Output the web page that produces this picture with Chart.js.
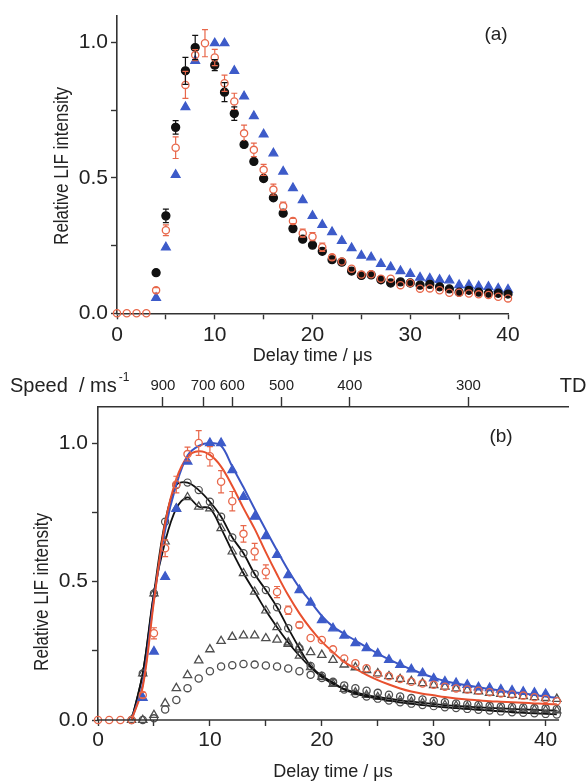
<!DOCTYPE html>
<html>
<head>
<meta charset="utf-8">
<script src="https://cdn.jsdelivr.net/npm/chart.js@4.4.1/dist/chart.umd.min.js"></script>
<style>
    html, body { margin: 0; padding: 0; background: #fff; overflow: hidden; }
    #boxA { position: absolute; left: 0; top: 0; width: 586px; height: 370px; }
    #boxB { position: absolute; left: 0; top: 370px; width: 586px; height: 411px; }
</style>
</head>
<body>
<div id="boxA"><canvas id="chartA"></canvas></div>
<div id="boxB"><canvas id="chartB"></canvas></div>
<script>

// delay time (us), one point per microsecond
const delay = [0, 1, 2, 3, 4, 5, 6, 7, 8, 9, 10, 11, 12, 13, 14, 15, 16, 17, 18, 19, 20,
    21, 22, 23, 24, 25, 26, 27, 28, 29, 30, 31, 32, 33, 34, 35, 36, 37, 38, 39, 40, 41];

// panel (a)
const blackA = [null, null, null, null, 0.15, 0.36, 0.687, 0.896, 0.982, null, 0.917, 0.817, 0.738, 0.624,
    0.561, 0.498, 0.427, 0.37, 0.313, 0.274, 0.252, 0.229, 0.198, 0.189, 0.156, 0.14, 0.142, 0.124, 0.112,
    0.116, 0.112, 0.104, 0.107, 0.098, 0.09, 0.078, 0.085, 0.078, 0.074, 0.074, 0.071, 0.066];
const blackErrA = [0, 0, 0, 0, 0.01, 0.025, 0.025, 0.05, 0.045, 0, 0.02, 0.035, 0.025, 0.01, 0, 0, 0, 0, 0, 0, 0,
    0, 0, 0, 0, 0, 0, 0, 0, 0, 0, 0, 0, 0, 0, 0, 0, 0, 0, 0, 0, 0];
const redA = [0, 0, 0, 0, 0.085, 0.307, 0.612, 0.844, 0.954, 0.998, 0.945, 0.85, 0.783, 0.665, 0.604, 0.53,
    0.457, 0.396, 0.341, 0.296, 0.283, 0.244, 0.207, 0.191, 0.165, 0.143, 0.144, 0.128, 0.128, 0.104, 0.112,
    0.091, 0.092, 0.085, 0.076, 0.076, 0.073, 0.07, 0.068, 0.061, 0.055, 0.055];
const redErrA = [0, 0, 0, 0, 0.01, 0.02, 0.04, 0.05, 0.02, 0.05, 0.03, 0.03, 0.03, 0.03, 0.025, 0.02, 0.02,
    0.015, 0.01, 0.015, 0.015, 0.015, 0.01, 0, 0, 0, 0, 0, 0, 0, 0, 0, 0, 0, 0, 0, 0, 0, 0, 0, 0, 0];
const blueA = [null, null, null, null, 0.057, 0.244, 0.512, 0.762, 0.933, null, 0.998, 0.998, 0.896, 0.802,
    0.729, 0.661, 0.591, 0.524, 0.463, 0.418, 0.36, 0.327, 0.3, 0.268, 0.241, 0.213, 0.207, 0.183, 0.171,
    0.156, 0.146, 0.132, 0.128, 0.124, 0.122, 0.104, 0.104, 0.1, 0.098, 0.091, 0.088, null];

// panel (b)
const blueB = [null, null, null, null, 0.08, 0.247, 0.517, 0.762, 0.933, null, 1.0, 1.0, 0.902, 0.806, 0.734,
    0.664, 0.596, 0.523, 0.469, 0.424, 0.361, 0.331, 0.305, 0.278, 0.26, 0.24, 0.217, 0.199, 0.183, 0.169,
    0.15, 0.139, 0.133, 0.127, 0.118, 0.115, 0.11, 0.106, 0.102, 0.098, 0.094, null];
const blueFitB = [null, null, null, 0, 0.13, 0.44, 0.686, 0.85, 0.955, 0.99, 1.0, 0.99, 0.915, 0.84, 0.762,
    0.686, 0.612, 0.541, 0.478, 0.427, 0.376, 0.337, 0.311, 0.287, 0.263, 0.24, 0.219, 0.2, 0.183, 0.167,
    0.153, 0.141, 0.132, 0.125, 0.118, 0.112, 0.106, 0.1, 0.096, 0.09, 0.085, 0.08];
const redB = [0, 0, 0, 0, 0.09, 0.313, 0.62, 0.85, 0.96, 1.0, 0.952, 0.86, 0.79, 0.672, 0.608, 0.535, 0.462,
    0.396, 0.343, 0.296, 0.289, 0.255, 0.222, 0.205, 0.187, 0.166, 0.158, 0.148, 0.138, 0.132, 0.127, 0.12,
    0.114, 0.11, 0.106, 0.1, 0.096, 0.092, 0.088, 0.082, 0.076, 0.068];
const redErrB = [0, 0, 0, 0, 0.01, 0.02, 0.03, 0.03, 0.025, 0.045, 0.035, 0.04, 0.035, 0.03, 0.03, 0.025, 0.02,
    0.015, 0.01, 0, 0, 0, 0, 0, 0, 0, 0, 0, 0, 0, 0, 0, 0, 0, 0, 0, 0, 0, 0, 0, 0, 0];
const redFitB = [null, null, null, 0, 0.12, 0.43, 0.71, 0.87, 0.95, 0.97, 0.957, 0.915, 0.845, 0.765, 0.69,
    0.605, 0.525, 0.45, 0.385, 0.33, 0.283, 0.245, 0.21, 0.185, 0.163, 0.144, 0.128, 0.114, 0.103, 0.095,
    0.089, 0.083, 0.078, 0.074, 0.071, 0.068, 0.066, 0.064, 0.062, 0.06, 0.058, 0.057];
const circLineB = [null, null, null, 0, 0.168, 0.457, 0.716, 0.848, 0.857, 0.83, 0.788, 0.734, 0.659, 0.602,
    0.527, 0.469, 0.407, 0.331, 0.259, 0.195, 0.16, 0.135, 0.11, 0.095, 0.085, 0.077, 0.07, 0.064, 0.059,
    0.054, 0.05, 0.046, 0.043, 0.04, 0.037, 0.034, 0.031, 0.028, 0.026, 0.024, 0.022, 0.02];
const triLineB = [null, null, null, 0, 0.168, 0.457, 0.644, 0.764, 0.804, 0.77, 0.764, 0.692, 0.608, 0.53,
    0.463, 0.395, 0.335, 0.28, 0.232, 0.19, 0.155, 0.13, 0.112, 0.1, 0.09, 0.083, 0.077, 0.071, 0.066,
    0.062, 0.058, 0.054, 0.051, 0.048, 0.046, 0.044, 0.042, 0.04, 0.038, 0.037, 0.035, 0.034];
const triLowB = [null, null, null, null, 0, 0.018, 0.06, 0.115, 0.162, 0.215, 0.255, 0.285, 0.3, 0.305, 0.305,
    0.295, 0.29, 0.275, 0.262, 0.245, 0.235, 0.217, 0.2, 0.19, 0.18, 0.168, 0.158, 0.148, 0.14, 0.133,
    0.126, 0.12, 0.114, 0.108, 0.103, 0.098, 0.094, 0.09, 0.086, 0.082, 0.079, 0.076];
const circLowB = [null, null, null, null, 0, 0.006, 0.038, 0.072, 0.115, 0.15, 0.176, 0.193, 0.198, 0.202, 0.2,
    0.197, 0.193, 0.186, 0.176, 0.163, 0.152, 0.138, 0.125, 0.115, 0.106, 0.098, 0.091, 0.085, 0.079,
    0.074, 0.069, 0.064, 0.06, 0.057, 0.054, 0.051, 0.049, 0.047, 0.045, 0.043, 0.042, 0.04];

// top axis of panel (b): speed ticks placed at delay times
const speedTimes = [5.8, 9.4, 12.0, 16.4, 22.5, 33.1];
const speedLabels = ["900", "700", "600", "500", "400", "300"];

const FONT = "'Liberation Sans', Arial, Helvetica, sans-serif";
const TXT = "#222";
const AXIS = "#333";
const RED = "#e8674a";
const RED_LINE = "#e8502e";
const BLUE = "#3d5bc9";
const BLUE_LINE = "#3a55c4";
const GRAY = "#4d4d4d";

function pts(values, errors) {
    let out = [];
    delay.forEach((t, i) => {
        if (values[i] === null) {
            return;
        }
        out.push({ x: t, y: values[i], err: errors ? errors[i] : 0 });
    });
    return out;
}

function isHalf(v) {
    return Math.abs(v * 2 - Math.round(v * 2)) < 1e-6;
}

const errorBars = {
    id: "errorBars",
    afterDatasetsDraw(chart) {
        const ctx = chart.ctx;
        const xs = chart.scales.x;
        const ys = chart.scales.y;
        chart.data.datasets.forEach(ds => {
            if (!ds.errColor) {
                return;
            }
            ctx.save();
            ctx.strokeStyle = ds.errColor;
            ctx.lineWidth = 1.2;
            ds.data.forEach(p => {
                if (!p.err) {
                    return;
                }
                const x = xs.getPixelForValue(p.x);
                const y = ys.getPixelForValue(p.y);
                const y1 = ys.getPixelForValue(p.y + p.err);
                const y2 = ys.getPixelForValue(p.y - p.err);
                const r = 4;
                ctx.beginPath();
                if (y - y1 > r) {
                    ctx.moveTo(x, y1);
                    ctx.lineTo(x, y - r);
                }
                if (y2 - y > r) {
                    ctx.moveTo(x, y + r);
                    ctx.lineTo(x, y2);
                }
                ctx.moveTo(x - 3, y1);
                ctx.lineTo(x + 3, y1);
                ctx.moveTo(x - 3, y2);
                ctx.lineTo(x + 3, y2);
                ctx.stroke();
            });
            ctx.restore();
        });
    }
};

const panelText = {
    id: "panelText",
    afterDraw(chart, args, opts) {
        const ctx = chart.ctx;
        (opts.items || []).forEach(item => {
            ctx.save();
            ctx.font = item.font;
            ctx.fillStyle = TXT;
            ctx.textAlign = item.align || "center";
            ctx.textBaseline = "middle";
            ctx.translate(item.x, item.y);
            if (item.rotate) {
                ctx.rotate(item.rotate);
            }
            if (item.squeeze) {
                ctx.scale(item.squeeze, 1);
            }
            ctx.fillText(item.text, 0, 0);
            if (item.sup) {
                const w = ctx.measureText(item.text).width;
                ctx.font = item.supFont;
                ctx.textAlign = "left";
                ctx.fillText(item.sup, w + 2, -8);
            }
            ctx.restore();
        });
        if (opts.bottomEnd !== undefined) {
            const xs = chart.scales.x;
            const y = chart.chartArea.bottom;
            ctx.save();
            ctx.strokeStyle = AXIS;
            ctx.lineWidth = 1.6;
            ctx.beginPath();
            ctx.moveTo(xs.getPixelForValue(0) - 0.8, y);
            ctx.lineTo(xs.getPixelForValue(opts.bottomEnd), y);
            ctx.stroke();
            ctx.restore();
        }
    }
};

function xAxis(max, height, pad, titlePad, showBorder) {
    return {
        type: "linear",
        position: "bottom",
        min: 0,
        max: max,
        afterFit: s => { s.height = height; },
        border: { display: showBorder, color: AXIS, width: 1.6 },
        grid: { drawOnChartArea: false, tickLength: 6, tickColor: AXIS, tickWidth: 1.4 },
        ticks: {
            stepSize: 5,
            includeBounds: false,
            autoSkip: false,
            maxRotation: 0,
            padding: pad,
            color: TXT,
            font: { family: FONT, size: 21 },
            callback: v => (v % 10 === 0 ? String(v) : "")
        },
        title: {
            display: true,
            text: "Delay time / \u03bcs",
            color: TXT,
            font: { family: FONT, size: 18, lineHeight: 1 },
            padding: { top: 0, bottom: titlePad }
        }
    };
}

function yAxis(max, width, pad) {
    return {
        type: "linear",
        min: 0,
        max: max,
        afterFit: s => { s.width = width; },
        border: { color: AXIS, width: 1.6 },
        grid: { drawOnChartArea: false, tickLength: 6, tickColor: AXIS, tickWidth: 1.4 },
        ticks: {
            stepSize: 0.25,
            includeBounds: false,
            autoSkip: false,
            padding: pad,
            color: TXT,
            font: { family: FONT, size: 21 },
            callback: v => (isHalf(v) ? v.toFixed(1) : "")
        }
    };
}

function markers(values, errors, style, radius, fill, stroke, order) {
    return {
        data: pts(values, errors),
        showLine: false,
        pointStyle: style,
        pointRadius: radius,
        pointBorderWidth: 1.3,
        pointBackgroundColor: fill,
        pointBorderColor: stroke,
        errColor: errors ? stroke : null,
        order: order,
        clip: false
    };
}

function curve(values, color, width, order, pointStyle, pointColor) {
    return {
        data: pts(values),
        showLine: true,
        borderColor: color,
        borderWidth: width,
        tension: 0.35,
        pointStyle: pointStyle || "circle",
        pointRadius: pointStyle ? (pointStyle === "triangle" ? 4.8 : 3.6) : 0,
        pointBorderWidth: 1.2,
        pointBackgroundColor: "rgba(0,0,0,0)",
        pointBorderColor: pointColor || color,
        order: order,
        clip: false
    };
}

const common = {
    responsive: true,
    maintainAspectRatio: false,
    animation: false,
    events: []
};

new Chart(document.getElementById("chartA"), {
    type: "scatter",
    data: {
        datasets: [
            markers(redA, redErrA, "circle", 3.6, "rgba(0,0,0,0)", RED, 1),
            markers(blackA, blackErrA, "circle", 4, "#111", "#111", 2),
            markers(blueA, null, "triangle", 5, BLUE, BLUE, 3)
        ]
    },
    options: Object.assign({}, common, {
        layout: { padding: { top: 12.7, right: 78, left: 0, bottom: 0 } },
        plugins: {
            legend: { display: false },
            tooltip: { enabled: false },
            panelText: {
                items: [
                    { text: "(a)", x: 496, y: 35, font: "19px " + FONT },
                    { text: "Relative LIF intensity", x: 62, y: 166, rotate: -Math.PI / 2,
                      squeeze: 0.85, font: "20px " + FONT }
                ]
            }
        },
        scales: {
            x: xAxis(40, 56.7, 3, 5, true),
            y: yAxis(1.1, 117, 3)
        }
    }),
    plugins: [errorBars, panelText]
});

new Chart(document.getElementById("chartB"), {
    type: "scatter",
    data: {
        datasets: [
            markers(redB, redErrB, "circle", 3.6, "rgba(0,0,0,0)", RED, 1),
            markers(blueB, null, "triangle", 5, BLUE, BLUE, 2),
            curve(redFitB, RED_LINE, 2, 3),
            curve(blueFitB, BLUE_LINE, 2, 4),
            curve(circLineB, "#111", 1.8, 5, "circle", GRAY),
            curve(triLineB, "#111", 1.8, 6, "triangle", GRAY),
            markers(triLowB, null, "triangle", 4.8, "rgba(0,0,0,0)", GRAY, 7),
            markers(circLowB, null, "circle", 3.6, "rgba(0,0,0,0)", GRAY, 8)
        ]
    },
    options: Object.assign({}, common, {
        layout: { padding: { top: 0, right: 18, left: 0, bottom: 0 } },
        plugins: {
            legend: { display: false },
            tooltip: { enabled: false },
            panelText: {
                bottomEnd: 41.2,
                items: [
                    { text: "(b)", x: 501, y: 67, font: "19px " + FONT },
                    { text: "Relative LIF intensity", x: 42, y: 222, rotate: -Math.PI / 2,
                      squeeze: 0.85, font: "20px " + FONT },
                    { text: "Speed  / ms", x: 10, y: 16, align: "left", font: "20px " + FONT,
                      sup: "-1", supFont: "12px " + FONT },
                    { text: "TD", x: 573, y: 16, font: "20px " + FONT }
                ]
            }
        },
        scales: {
            x: xAxis(42, 61, 1.4, 0, false),
            x2: {
                type: "linear",
                position: "top",
                min: 0,
                max: 42,
                afterFit: s => { s.height = 37; },
                afterBuildTicks: s => {
                    s.ticks = speedTimes.map(v => ({ value: v }));
                },
                border: { color: AXIS, width: 1.6 },
                grid: { drawOnChartArea: false, tickLength: 10, tickColor: AXIS, tickWidth: 1.4 },
                ticks: {
                    autoSkip: false,
                    maxRotation: 0,
                    padding: 2,
                    color: TXT,
                    font: { family: FONT, size: 15 },
                    callback: (v, i) => speedLabels[i]
                }
            },
            y: yAxis(1.13, 98, 4)
        }
    }),
    plugins: [errorBars, panelText]
});

</script>
</body>
</html>
